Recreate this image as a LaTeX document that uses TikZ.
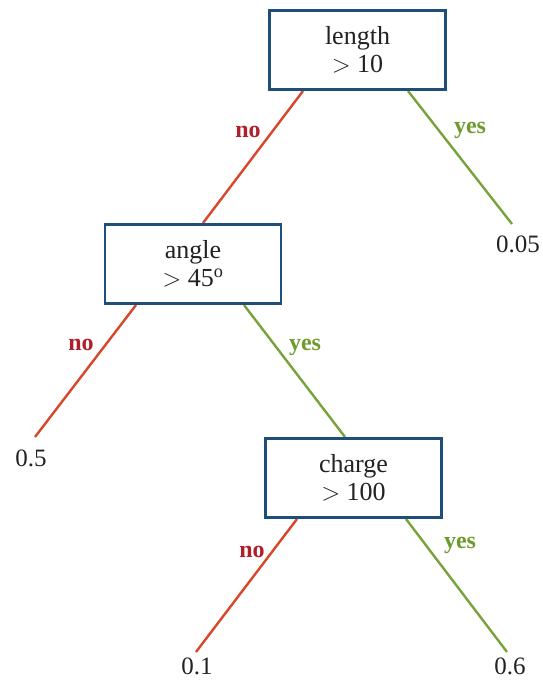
\documentclass[tikz,border=0pt]{standalone}
\usepackage{fontspec}
\setmainfont{Liberation Serif}
\definecolor{boxblue}{HTML}{1F4E79}
\definecolor{nored}{HTML}{D9472B}
\definecolor{nolab}{HTML}{B0202A}
\definecolor{yesgreen}{HTML}{77A33A}
\definecolor{yeslab}{HTML}{6E9B2E}
\definecolor{txt}{HTML}{222222}
\begin{document}
\begin{tikzpicture}[x=1pt,y=-1pt,
  testbox/.style={draw=boxblue,line width=2.6pt,fill=white,minimum width=176pt,minimum height=79pt,align=center,font=\fontsize{26}{28}\selectfont,text=txt,inner sep=0pt},
  leaf/.style={font=\fontsize{25}{28}\selectfont,text=txt,inner sep=0pt},
  nolink/.style={draw=nored,line width=2.4pt},
  yeslink/.style={draw=yesgreen,line width=2.4pt},
  nolabel/.style={font=\fontsize{24}{26}\selectfont\bfseries,text=nolab,inner sep=0pt},
  yeslabel/.style={font=\fontsize{24}{26}\selectfont\bfseries,text=yeslab,inner sep=0pt}]
\useasboundingbox (0,0) rectangle (542,681);
% coordinates for line ends
\coordinate (l1a) at (303,91);
\coordinate (l1b) at (203,223);
\coordinate (r1a) at (408,91);
\coordinate (r1b) at (512,224);
\coordinate (l2a) at (136,305);
\coordinate (l2b) at (35,437);
\coordinate (r2a) at (244,305);
\coordinate (r2b) at (345,437);
\coordinate (l3a) at (297,519);
\coordinate (l3b) at (196,652);
\coordinate (r3a) at (406,519);
\coordinate (r3b) at (507,652);
\draw[nolink] (l1a) -- (l1b);
\draw[yeslink] (r1a) -- (r1b);
\draw[nolink] (l2a) -- (l2b);
\draw[yeslink] (r2a) -- (r2b);
\draw[nolink] (l3a) -- (l3b);
\draw[yeslink] (r3a) -- (r3b);
\node[testbox] (root) at (357.5,50) {length\\$>$ 10};
\node[testbox] (angle) at (193,264) {angle\\$>$ 45\textsuperscript{o}};
\node[testbox] (charge) at (353.5,478) {charge\\$>$ 100};
\node[leaf] (v1) at (518,244) {0.05};
\node[leaf] (v2) at (31,458) {0.5};
\node[leaf] (v3) at (197,666) {0.1};
\node[leaf] (v4) at (510,666) {0.6};
\node[nolabel] (n1) at (248,132) {no};
\node[yeslabel] (y1) at (470,130) {yes};
\node[nolabel] (n2) at (81,345) {no};
\node[yeslabel] (y2) at (305,347) {yes};
\node[nolabel] (n3) at (252,552) {no};
\node[yeslabel] (y3) at (460,545) {yes};
\end{tikzpicture}
\end{document}
